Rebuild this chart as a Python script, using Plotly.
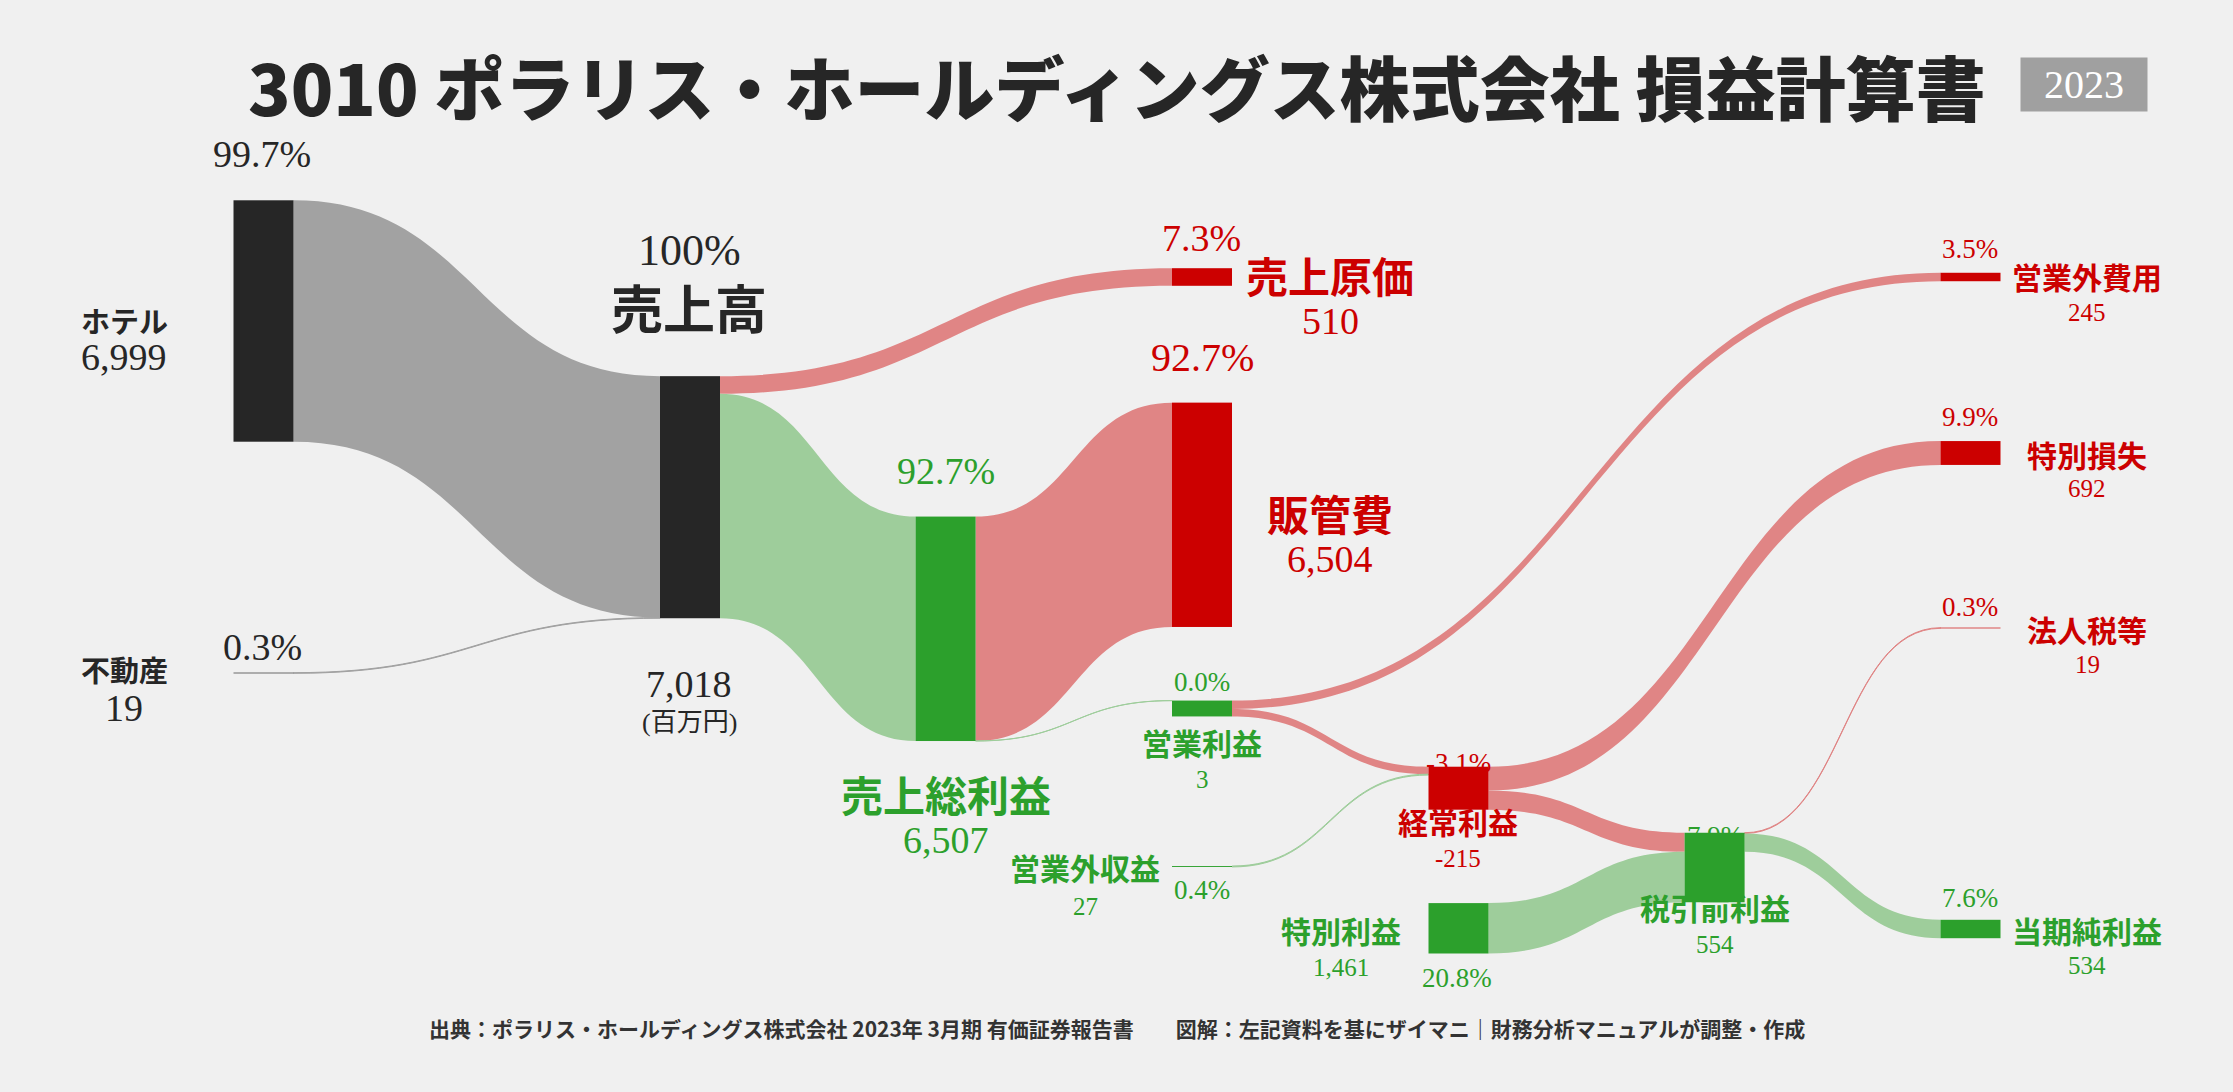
import plotly.graph_objects as go

W, H = 2233, 1092

# ---------------- data ----------------
node_names = ["ホテル", "不動産", "売上高", "売上原価", "売上総利益", "販管費", "営業利益",
              "営業外収益", "営業外費用", "経常利益", "特別利益", "特別損失", "税引前利益",
              "法人税等", "当期純利益"]
node_amounts = ["6,999", "19", "7,018", "510", "6,507", "6,504", "3",
                "27", "245", "-215", "1,461", "692", "554", "19", "534"]
node_pcts = ["99.7%", "0.3%", "100%", "7.3%", "92.7%", "92.7%", "0.0%",
             "0.4%", "3.5%", "-3.1%", "20.8%", "9.9%", "7.9%", "0.3%", "7.6%"]
node_kind = ["seg", "seg", "seg", "cost", "profit", "cost", "profit",
             "profit", "cost", "cost", "profit", "cost", "profit", "cost", "profit"]

link_source = ["ホテル", "不動産", "売上高", "売上高", "売上総利益", "売上総利益",
               "営業利益", "営業利益", "営業外収益", "経常利益", "経常利益",
               "特別利益", "税引前利益", "税引前利益"]
link_target = ["売上高", "売上高", "売上原価", "売上総利益", "販管費", "営業利益",
               "営業外費用", "経常利益", "経常利益", "特別損失", "税引前利益",
               "税引前利益", "法人税等", "当期純利益"]
link_values = [6999, 19, 510, 6507, 6504, 3, 245, 215, 27, 692, 554, 1461, 19, 534]
link_kind = ["seg", "seg", "cost", "profit", "cost", "profit",
             "cost", "cost", "profit", "cost", "cost",
             "profit", "cost", "profit"]

title_text = "3010 ポラリス・ホールディングス株式会社 損益計算書"
year_text = "2023"
unit_text = "(百万円)"
footer_text = ("出典：ポラリス・ホールディングス株式会社 2023年 3月期 有価証券報告書　　"
               "図解：左記資料を基にザイマニ｜財務分析マニュアルが調整・作成")

# ---------------- styles ----------------
BG = "#F0F0F0"
DARK = "#262626"
RED = "#CC0000"
GREEN = "#2CA02C"
node_color_map = {"seg": DARK, "cost": RED, "profit": GREEN}
link_color_map = {"seg": "#A2A2A2", "cost": "#E08585", "profit": "#9ECD9B"}
GOTHIC = "Noto Sans CJK JP"
SERIF = "Liberation Serif, DejaVu Serif, Noto Sans CJK JP"

# sankey domain (pixels from top) and node centre positions in pixels
DOM_TOP, DOM_BOT = 130, 1010
DOM_H = DOM_BOT - DOM_TOP
node_pos_px = {
    "ホテル": (263.5, 321), "不動産": (263.5, 673), "売上高": (690, 497.2),
    "売上原価": (1202, 277), "売上総利益": (945.6, 628.8), "販管費": (1202, 514.8),
    "営業利益": (1202, 708.5), "営業外収益": (1202, 866.5), "営業外費用": (1970.5, 277),
    "経常利益": (1458.5, 788.2), "特別利益": (1458.5, 928.3), "特別損失": (1970.5, 453),
    "税引前利益": (1714.6, 867.5), "法人税等": (1970.5, 628), "当期純利益": (1970.5, 929),
}
NODE_PAD = 200
NODE_THICK = 60

idx = {n: i for i, n in enumerate(node_names)}
node_colors = [node_color_map[k] for k in node_kind]
link_colors = [link_color_map[k] for k in link_kind]

fig = go.Figure(go.Sankey(
    arrangement="fixed",
    domain=dict(x=[0, 1], y=[1 - DOM_BOT / H, 1 - DOM_TOP / H]),
    node=dict(
        label=[""] * len(node_names),
        color=node_colors,
        pad=NODE_PAD,
        thickness=NODE_THICK,
        line=dict(width=0),
        x=[node_pos_px[n][0] / W for n in node_names],
        y=[(node_pos_px[n][1] - DOM_TOP) / DOM_H for n in node_names],
        hoverinfo="none",
    ),
    link=dict(
        source=[idx[s] for s in link_source],
        target=[idx[t] for t in link_target],
        value=link_values,
        color=link_colors,
        hoverinfo="none",
    ),
))

annotations = []


def ann(text, x, y, size, color, bold=False, serif=False, xanchor="center", weight=None):
    annotations.append(dict(
        text=text, x=x / W, y=1 - y / H, xref="paper", yref="paper",
        xanchor=xanchor, yanchor="middle", showarrow=False,
        font=dict(family=SERIF if serif else GOTHIC, size=size, color=color,
                  weight=weight if weight else ("bold" if bold else "normal")),
    ))


# label layout: (name_pos, name_size, amount_pos, amount_size, pct_pos, pct_size)
label_layout = {
    "ホテル": ((124, 320), 29, (124, 357), 38, (262, 154), 38),
    "不動産": ((124, 669), 29, (124, 708), 38, (262, 647), 38),
    "売上高": ((689, 306), 52, (689, 683.5), 38, (689, 251), 44),
    "売上原価": ((1330, 274), 42, (1330, 321), 38, (1201, 238), 38),
    "販管費": ((1330, 512), 42, (1330, 559), 38, (1202, 358), 40),
    "売上総利益": ((945.6, 793), 42, (945.6, 840), 38, (945.6, 471), 38),
    "営業利益": ((1202, 742), 30, (1202, 779), 25, (1202, 682), 27),
    "営業外収益": ((1085, 867), 30, (1085, 906), 25, (1202, 890), 27),
    "経常利益": ((1458, 821), 30, (1458, 858), 25, (1458, 763), 27),
    "特別利益": ((1340.6, 930), 30, (1340.6, 967), 25, (1457, 978), 27),
    "税引前利益": ((1714.6, 906.6), 30, (1714.6, 944), 25, (1714.6, 836), 27),
    "営業外費用": ((2087, 276), 30, (2087, 312), 25, (1970, 249.5), 27),
    "特別損失": ((2087, 453.5), 30, (2087, 489), 25, (1970, 417), 27),
    "法人税等": ((2087, 628.6), 30, (2087, 665), 25, (1970, 606.6), 27),
    "当期純利益": ((2087, 929.6), 30, (2087, 965.5), 25, (1970, 898), 27),
}

for i, n in enumerate(node_names):
    (nx, ny), ns, (ax, ay), asz, (px, py), psz = label_layout[n]
    col = node_colors[i]
    ann(n, nx, ny, ns, col, bold=True)
    ann(node_amounts[i], ax, ay, asz, col, serif=True)
    ann(node_pcts[i], px, py, psz, col, serif=True)

ann(unit_text, 689, 722, 26, DARK, serif=True)

# title, year badge, footer
ann(title_text, 1117, 86, 70, DARK, weight=900)
annotations.append(dict(
    text=year_text, x=2084 / W, y=1 - 84.5 / H, xref="paper", yref="paper",
    xanchor="center", yanchor="middle", showarrow=False,
    width=126, height=53, bgcolor="#A0A0A0", borderpad=0,
    font=dict(family=SERIF, size=40, color="white"),
))
ann(footer_text, 1117, 1028, 21, "#333333", weight=600)

fig.update_layout(
    width=W, height=H,
    margin=dict(l=0, r=0, t=0, b=0),
    paper_bgcolor=BG, plot_bgcolor=BG,
    annotations=annotations,
    showlegend=False,
)

fig.write_html("out.html", config={"displayModeBar": False},
               post_script="document.body.style.margin='0';document.body.style.overflow='hidden';")
